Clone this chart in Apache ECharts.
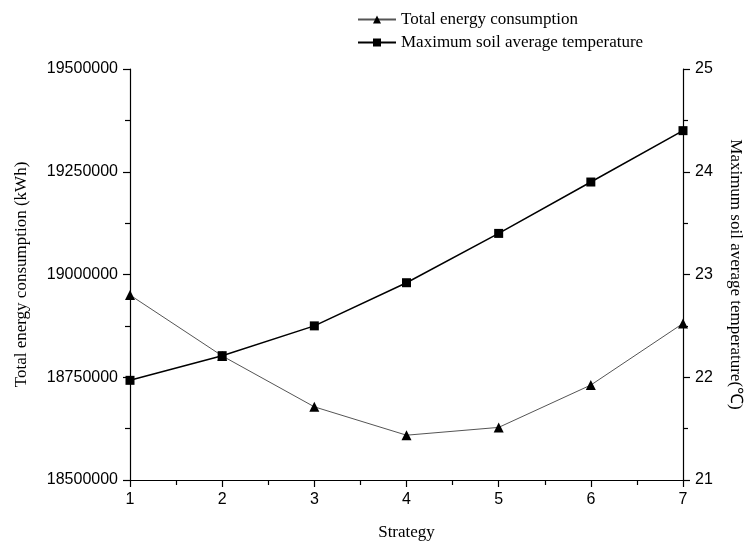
<!DOCTYPE html>
<html>
<head>
    <meta charset="utf-8">
    <script src="https://cdn.jsdelivr.net/npm/echarts@6.0.0/dist/echarts.min.js"></script>
    <style>
        * { margin: 0; padding: 0; }
        body { background: #fff; }
        #chart { width: 744px; height: 544px; }
    </style>
</head>
<body>
    <div id="chart"></div>
    <script>
        // strategies 1..7
        const strategies = [1, 2, 3, 4, 5, 6, 7];
        // total energy consumption (kWh)
        const energy = [18950000, 18802000, 18678000, 18609000, 18628000, 18731000, 18881000];
        // maximum soil average temperature (℃)
        const soilTemp = [21.97, 22.21, 22.5, 22.92, 23.4, 23.9, 24.4];

        const serif = 'Liberation Serif';
        const sans = 'Liberation Sans';

        const axisLine = { show: true, lineStyle: { color: '#000', width: 1.2 } };
        const axisTick = { show: true, inside: false, length: 7, lineStyle: { color: '#000', width: 1.2 } };
        const minorTick = { show: true, splitNumber: 2, length: 5, lineStyle: { color: '#000', width: 1.2 } };
        const tickLabel = { color: '#000', fontFamily: sans, fontSize: 16, margin: 12, formatter: v => String(v) };
        const nameStyle = { color: '#000', fontFamily: serif, fontSize: 17 };

        const chart = echarts.init(document.getElementById('chart'));
        chart.setOption({
            animation: false,
            backgroundColor: '#fff',
            grid: { left: 130, right: 61, top: 69, bottom: 64, containLabel: false, outerBoundsMode: 'none' },
            legend: {
                orient: 'vertical',
                left: 352,
                top: 6,
                itemGap: 6,
                itemWidth: 38,
                itemHeight: 10,
                textStyle: { color: '#000', fontFamily: serif, fontSize: 17 },
                data: ['Total energy consumption', 'Maximum soil average temperature']
            },
            xAxis: {
                type: 'value',
                min: 1,
                max: 7,
                interval: 1,
                name: 'Strategy',
                nameLocation: 'middle',
                nameGap: 44,
                nameTextStyle: nameStyle,
                axisLine: axisLine,
                axisTick: axisTick,
                minorTick: minorTick,
                axisLabel: tickLabel,
                splitLine: { show: false }
            },
            yAxis: [{
                type: 'value',
                min: 18500000,
                max: 19500000,
                interval: 250000,
                name: 'Total energy consumption (kWh)',
                nameLocation: 'middle',
                nameGap: 100,
                nameTextStyle: nameStyle,
                axisLine: axisLine,
                axisTick: axisTick,
                minorTick: minorTick,
                axisLabel: tickLabel,
                splitLine: { show: false }
            }, {
                type: 'value',
                position: 'right',
                min: 21,
                max: 25,
                interval: 1,
                name: 'Maximum soil average temperature(℃)',
                nameLocation: 'middle',
                nameRotate: -90,
                nameGap: 44,
                nameTextStyle: nameStyle,
                axisLine: axisLine,
                axisTick: axisTick,
                minorTick: minorTick,
                axisLabel: tickLabel,
                splitLine: { show: false }
            }],
            series: [{
                name: 'Total energy consumption',
                type: 'line',
                yAxisIndex: 0,
                data: strategies.map((s, i) => [s, energy[i]]),
                symbol: 'triangle',
                symbolSize: 10,
                lineStyle: { color: '#555', width: 1 },
                itemStyle: { color: '#000' }
            }, {
                name: 'Maximum soil average temperature',
                type: 'line',
                yAxisIndex: 1,
                data: strategies.map((s, i) => [s, soilTemp[i]]),
                symbol: 'rect',
                symbolSize: 9,
                lineStyle: { color: '#000', width: 1.5 },
                itemStyle: { color: '#000' }
            }]
        });
    </script>
</body>
</html>
